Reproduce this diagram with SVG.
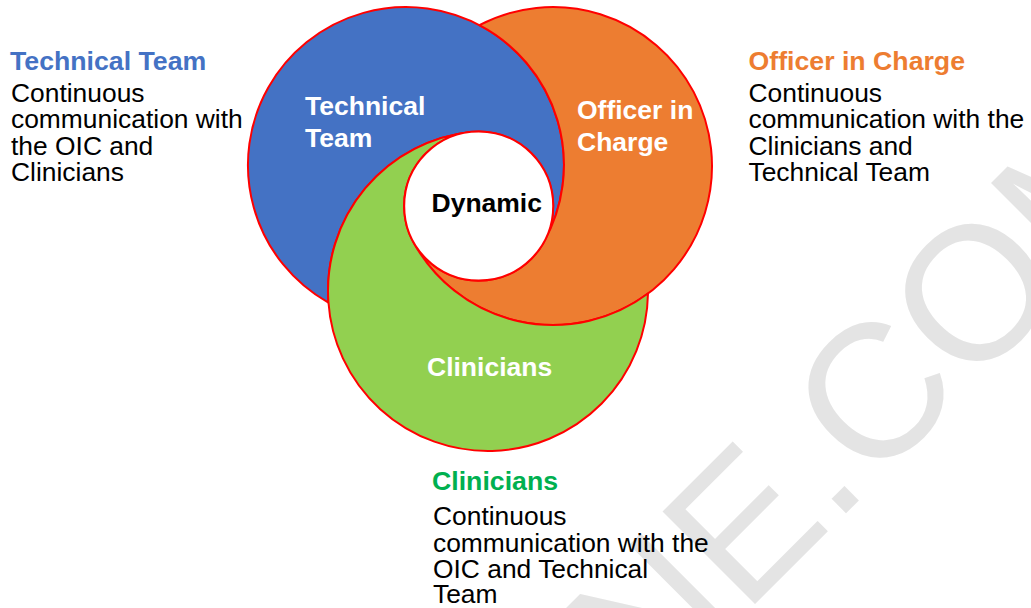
<svg xmlns="http://www.w3.org/2000/svg" width="1031" height="608" viewBox="0 0 1031 608">
  <style>
    text { font-family: "Liberation Sans", Arial, sans-serif; font-size: 26.4px; }
    .ring { stroke: #FF0000; stroke-width: 2; stroke-linejoin: round; }
    .inner { fill: #FFFFFF; font-weight: bold; font-size: 26.5px; }
    .head { font-weight: bold; font-size: 26.7px; }
    .hub { font-weight: bold; font-size: 26.5px; fill: #000000; }
    .body { fill: #000000; }
    .mark { fill: #E4E4E4; font-size: 190px; }
  </style>

  <!-- background watermark -->
  <text class="mark" transform="rotate(-45)" x="-46" y="961">NE.COM</text>

  <!-- three interlocking rings around the centre hub -->
  <g id="technical-team">
    <path class="ring" fill="#4472C4" d="M328.4,302.7 A158,158 0 1 1 543.6,242.6 A74.5,74.5 0 0 0 470.6,131.9 A160,160 0 0 0 328.4,302.7 Z"/>
    <text class="inner" x="305" y="115">Technical</text>
    <text class="inner" x="305" y="147">Team</text>
  </g>

  <g id="officer-in-charge">
    <path class="ring" fill="#ED7D31" d="M479.4,25.1 A159,159 0 1 1 413.0,241.4 A74.5,74.5 0 0 0 543.6,242.6 A158,158 0 0 0 479.4,25.1 Z"/>
    <text class="inner" x="577" y="118.5">Officer in</text>
    <text class="inner" x="577" y="150.5">Charge</text>
  </g>

  <g id="clinicians">
    <path class="ring" fill="#92D050" d="M648.0,293.5 A160,160 0 1 1 470.6,131.9 A74.5,74.5 0 0 0 413.0,241.4 A159,159 0 0 0 648.0,293.5 Z"/>
    <text class="inner" x="427" y="376">Clinicians</text>
  </g>

  <g id="dynamic">
    <circle class="ring" fill="#FFFFFF" cx="478.7" cy="206" r="74.5"/>
    <text class="hub" x="431.5" y="212">Dynamic</text>
  </g>

  <g id="connectors"/>

  <!-- role descriptions -->
  <g id="technical-team-note">
    <text class="head" x="10" y="69.5" fill="#4472C4">Technical Team</text>
    <text class="body" x="11" y="101.5">Continuous</text>
    <text class="body" x="11" y="128">communication with</text>
    <text class="body" x="11" y="154.5">the OIC and</text>
    <text class="body" x="11" y="181">Clinicians</text>
  </g>

  <g id="officer-in-charge-note">
    <text class="head" x="748.5" y="69.5" fill="#ED7D31">Officer in Charge</text>
    <text class="body" x="748.5" y="101.5">Continuous</text>
    <text class="body" x="748.5" y="128">communication with the</text>
    <text class="body" x="748.5" y="154.5">Clinicians and</text>
    <text class="body" x="748.5" y="181">Technical Team</text>
  </g>

  <g id="clinicians-note">
    <text class="head" x="432" y="489.5" fill="#00B050">Clinicians</text>
    <text class="body" x="433" y="525">Continuous</text>
    <text class="body" x="433" y="551.5">communication with the</text>
    <text class="body" x="433" y="578">OIC and Technical</text>
    <text class="body" x="433" y="603">Team</text>
  </g>
</svg>
